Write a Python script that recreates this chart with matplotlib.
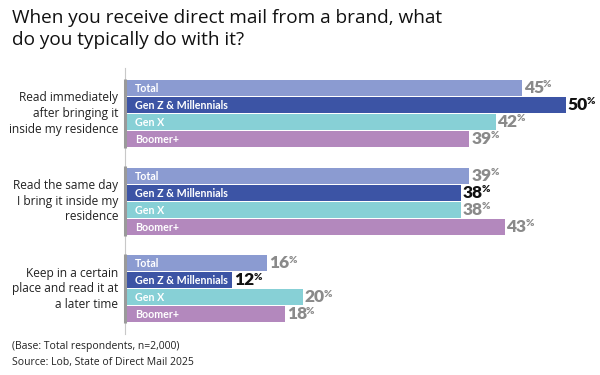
import matplotlib
matplotlib.use("Agg")
import matplotlib.pyplot as plt

plt.rcParams['font.family'] = ['Open Sans', 'DejaVu Sans']
BOLD_FAMILY = ['Lato', 'DejaVu Sans']

title = "When you receive direct mail from a brand, what\ndo you typically do with it?"
categories = ["Read immediately\nafter bringing it\ninside my residence",
              "Read the same day\nI bring it inside my\nresidence",
              "Keep in a certain\nplace and read it at\na later time"]
series = ["Total", "Gen Z & Millennials", "Gen X", "Boomer+"]
values = {
    "Total": [45, 39, 16],
    "Gen Z & Millennials": [50, 38, 12],
    "Gen X": [42, 38, 20],
    "Boomer+": [39, 43, 18],
}
colors = {"Total": "#8b9bd1", "Gen Z & Millennials": "#3c54a5",
          "Gen X": "#87d0d6", "Boomer+": "#b388bd"}
value_colors = {"Total": "#8a8a8a", "Gen Z & Millennials": "#111111",
                "Gen X": "#8a8a8a", "Boomer+": "#8a8a8a"}
footnotes = ["(Base: Total respondents, n=2,000)", "Source: Lob, State of Direct Mail 2025"]

W, H = 600, 375
fig = plt.figure(figsize=(6, 3.75), dpi=100)
fig.patch.set_facecolor("white")

x0, x1 = 127, 566
ytop, ybot = 68, 334
ax = fig.add_axes([x0 / W, 1 - ybot / H, (x1 - x0) / W, (ybot - ytop) / H])
ax.set_xlim(0, 50)
gstep = 5.15
first_c = 88
unit = 17.0
ax.set_ylim((ybot - first_c) / unit, (ytop - first_c) / unit)
ax.axis("off")

num_texts = []
for g, cat in enumerate(categories):
    base = g * gstep
    for i, s in enumerate(series):
        y = base + i
        v = values[s][g]
        ax.barh(y, v, height=0.94, color=colors[s], edgecolor="none")
        ax.text(0.9, y + 0.03, s, color="white", fontsize=7.7, fontweight="bold",
                family=BOLD_FAMILY, va="center", ha="left")
        t = ax.text(v + 0.2, y + 0.02, str(v), color=value_colors[s], fontsize=12.5,
                    fontweight="heavy", family=BOLD_FAMILY, va="center", ha="left")
        num_texts.append(t)
    ax.text(-1.0, base + 1.5, cat, ha="right", va="center", fontsize=8.6,
            color="#222222", linespacing=1.25)
    ax.plot([-0.2, -0.2], [base - 0.55, base + 3.55], color="#9a9a9a", lw=2.2,
            solid_capstyle="butt", clip_on=False)

ax.plot([-0.2, -0.2], [(ytop - first_c) / unit, (ybot - first_c) / unit],
        color="#c8c8c8", lw=0.8, clip_on=False, zorder=0)

fig.canvas.draw()
r = fig.canvas.get_renderer()
for t in num_texts:
    bb = t.get_window_extent(r)
    xd, _ = ax.transData.inverted().transform((bb.x1, bb.y1))
    _, yd = t.get_position()
    ax.text(xd - 0.12, yd - 0.2, "%", color=t.get_color(), fontsize=7.2,
            fontweight="heavy", family=BOLD_FAMILY, va="center", ha="left")

fig.text(12 / W, 1 - 9 / H, title, ha="left", va="top", fontsize=13.7,
         color="#111111", linespacing=1.28)
fig.text(12 / W, 1 - 346 / H, footnotes[0], ha="left", va="center", fontsize=7.5, color="#222222")
fig.text(12 / W, 1 - 362 / H, footnotes[1], ha="left", va="center", fontsize=7.5, color="#222222")

fig.savefig("out.png", dpi=100, facecolor="white")
